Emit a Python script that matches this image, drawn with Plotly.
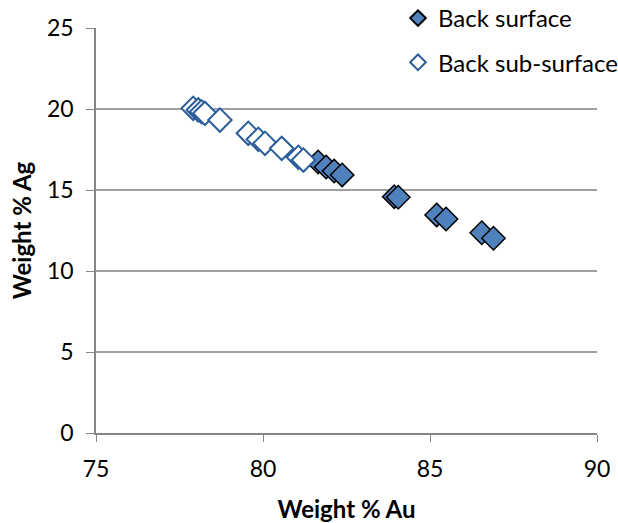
import plotly.graph_objects as go

surf_au = [81.65, 81.89, 82.13, 82.37, 83.93, 84.05, 85.20, 85.48, 86.55, 86.90]
surf_ag = [16.73, 16.42, 16.17, 15.93, 14.59, 14.55, 13.46, 13.21, 12.36, 12.02]

sub_au = [77.91, 78.06, 78.16, 78.26, 78.71, 79.56, 79.86, 80.06, 80.56, 81.06, 81.21]
sub_ag = [20.04, 19.94, 19.83, 19.73, 19.32, 18.50, 18.13, 17.88, 17.57, 17.02, 16.85]

x_ticks = [75, 80, 85, 90]
y_ticks = [0, 5, 10, 15, 20, 25]

font = "Lato, 'Open Sans', sans-serif"

fig = go.Figure()
fig.add_trace(go.Scatter(
    x=surf_au, y=surf_ag, mode="markers", name="Back surface", legendgroup="a",
    marker=dict(symbol="diamond", size=18, color="#4F81BD",
                line=dict(color="black", width=1.5)),
))
fig.add_trace(go.Scatter(
    x=sub_au, y=sub_ag, mode="markers", name="Back sub-surface", legendgroup="b",
    marker=dict(symbol="diamond", size=18, color="white",
                line=dict(color="#2B5C9B", width=2)),
))

fig.update_layout(
    width=618, height=523,
    margin=dict(l=96, r=21, t=28, b=90, autoexpand=False),
    paper_bgcolor="white", plot_bgcolor="white",
    font=dict(family=font, size=23, color="black"),
    showlegend=True,
    legend=dict(xref="container", yref="paper", x=0.644, y=1.079,
                xanchor="left", yanchor="top",
                bgcolor="rgba(255,255,255,1)", font=dict(size=24, family=font),
                itemsizing="constant", tracegroupgap=10, traceorder="grouped",
                itemwidth=30),
    xaxis=dict(range=[75, 90], tickvals=x_ticks, showgrid=False,
               showline=True, linecolor="#868686", linewidth=1.5,
               ticks="outside", ticklen=7, tickcolor="#868686",
               ticklabelstandoff=8,
               zeroline=False, automargin=False,
               title=dict(text="<b>Weight % Au</b>", font=dict(size=24, family=font), standoff=21)),
    yaxis=dict(range=[0, 25], tickvals=y_ticks, showgrid=True,
               gridcolor="#A0A0A0", gridwidth=1.5,
               showline=True, linecolor="#868686", linewidth=1.5,
               ticks="outside", ticklen=8, tickcolor="#868686",
               ticklabelstandoff=8,
               zeroline=False, automargin=False,
               title=dict(text="<b>Weight % Ag</b>", font=dict(size=24, family=font), standoff=9)),
)

fig.write_html("out.html", config={"displayModeBar": False},
               post_script="document.body.style.margin='0';")
